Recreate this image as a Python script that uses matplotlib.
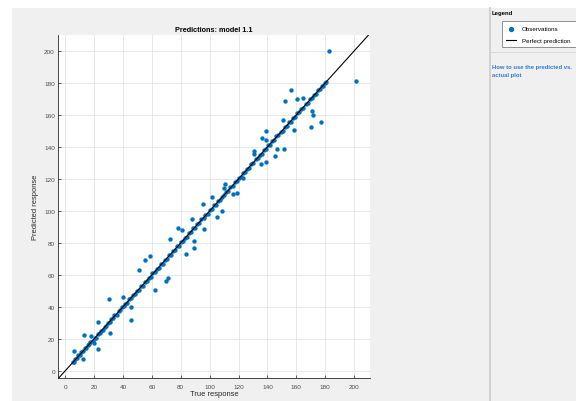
import matplotlib
matplotlib.use("Agg")
import matplotlib.pyplot as plt
from matplotlib.patches import Rectangle
from matplotlib.lines import Line2D

plt.rcParams['font.family'] = ['Liberation Sans', 'DejaVu Sans']

# observations lying on the diagonal
true_on = [5.2, 6.1, 7.0, 8.3, 9.1, 10.4, 11.2, 12.5, 13.6, 14.3, 15.5, 16.8, 17.4, 18.9,
           20.3, 21.1, 22.4, 23.8, 24.6, 25.9, 27.2, 28.1, 29.5, 30.8, 32.0, 33.3, 34.1,
           35.6, 36.9, 38.2, 39.4, 40.7, 41.5, 42.9, 44.2, 45.8, 47.1, 48.3, 49.6, 51.0,
           52.4, 53.7, 55.1, 56.5, 57.8, 59.2, 60.4, 61.9, 63.3, 64.6, 66.0, 67.5, 68.8,
           70.2, 71.7, 73.0, 74.4, 75.9, 77.3, 78.6, 80.1, 81.5, 82.8, 84.3, 85.7, 87.2,
           88.6, 90.0, 91.5, 92.9, 94.2, 95.8, 97.1, 98.6, 100.0, 101.4, 102.9, 104.3,
           105.8, 107.2, 108.5, 110.1, 111.6, 113.0, 114.4, 115.9, 117.3, 118.8, 120.2,
           121.7, 123.1, 124.5, 126.0, 127.4, 128.9, 130.3, 131.8, 133.2, 134.6, 136.1,
           137.5, 139.0, 140.4, 141.9, 143.3, 144.7, 146.2, 147.6, 149.1, 150.5, 152.0,
           153.4, 154.8, 156.3, 157.7, 159.2, 160.6, 162.1, 163.5, 164.9, 166.4, 167.8,
           169.3, 170.7, 172.1, 173.6, 175.0, 176.4, 177.5, 178.6, 179.7, 180.8]
pred_on = [5.6, 5.8, 7.5, 8.0, 9.6, 10.1, 11.7, 12.2, 14.1, 14.0, 15.9, 16.5, 17.9, 18.6,
           20.8, 20.7, 22.9, 23.5, 25.1, 25.5, 27.7, 27.8, 30.0, 30.4, 32.5, 33.0, 34.6,
           35.2, 37.4, 37.9, 39.9, 40.3, 42.0, 42.6, 44.7, 45.4, 47.6, 48.0, 50.1, 50.6,
           52.9, 53.3, 55.6, 56.1, 58.3, 58.9, 60.9, 61.5, 63.8, 64.2, 66.5, 67.1, 69.3,
           69.8, 72.2, 72.6, 74.9, 75.5, 77.8, 78.2, 80.6, 81.1, 83.3, 83.9, 86.2, 86.8,
           89.1, 89.6, 92.0, 92.5, 94.7, 95.4, 97.6, 98.2, 100.5, 101.0, 103.4, 103.9,
           106.3, 106.8, 109.0, 109.7, 112.1, 112.6, 114.9, 115.5, 117.8, 118.4, 120.7,
           121.3, 123.6, 124.1, 126.5, 127.0, 129.4, 129.9, 132.3, 132.8, 135.1, 135.7,
           138.0, 138.6, 140.9, 141.5, 143.8, 144.3, 146.7, 147.2, 149.6, 150.1, 152.5,
           153.0, 155.3, 155.9, 158.2, 158.8, 161.1, 161.7, 164.0, 164.5, 166.9, 167.4,
           169.8, 170.3, 172.6, 173.2, 175.5, 176.0, 178.0, 178.2, 180.2, 180.5]

# observations off the diagonal
true_off = [182.7, 201.2, 156.4, 152.5, 160.6, 164.7, 170.9, 171.4, 150.9, 177.4, 170.0,
            158.7, 138.9, 136.1, 139.1, 130.8, 131.0, 146.5, 151.3, 145.3, 135.6, 138.9,
            123.4, 110.7, 110.2, 116.0, 118.8, 101.3, 95.7, 108.7, 105.2, 88.1, 96.0,
            78.0, 80.7, 72.4, 89.3, 89.3, 83.5, 58.6, 55.2, 51.2, 71.1, 69.9, 62.5,
            30.4, 39.7, 45.2, 45.2, 31.1, 22.6, 12.9, 17.8, 20.0, 22.6, 6.2, 12.0]
pred_off = [200.2, 181.0, 175.8, 168.5, 169.8, 170.6, 162.7, 160.0, 157.0, 155.8, 152.3,
            150.4, 150.0, 145.4, 144.6, 137.5, 135.4, 138.7, 138.5, 134.6, 129.6, 130.8,
            120.6, 117.0, 114.6, 110.4, 111.0, 108.7, 104.2, 100.2, 96.0, 94.8, 88.5,
            89.6, 88.3, 82.5, 81.0, 77.0, 73.1, 71.5, 69.4, 63.3, 57.9, 56.0, 50.8,
            45.0, 46.3, 39.8, 31.7, 23.8, 30.8, 22.7, 21.5, 17.7, 13.7, 12.3, 7.5]

ticks = [0, 20, 40, 60, 80, 100, 120, 140, 160, 180, 200]

W, H = 576, 402
fig = plt.figure(figsize=(W / 100, H / 100), dpi=100)
fig.patch.set_facecolor('white')

# app panels (behind the axes)
fig.patches.append(Rectangle((12 / W, 0), (489 - 12) / W, (H - 9) / H, zorder=-10,
                             transform=fig.transFigure, facecolor='#f0f0f0', edgecolor='none'))
fig.patches.append(Rectangle((491 / W, 0), (W - 491) / W, (H - 9) / H, zorder=-10,
                             transform=fig.transFigure, facecolor='#f0f0f0', edgecolor='none'))
fig.add_artist(Line2D([489.5 / W, 489.5 / W], [0, (H - 9) / H], transform=fig.transFigure,
                      color='#c8c8c8', lw=1.2, zorder=-5))

ax = fig.add_axes([58 / W, (H - 379) / H, (370 - 58) / W, (379 - 36) / H])
ax.set_facecolor('white')
ax.scatter(true_on, pred_on, s=10, color='#0072BD', linewidths=0, zorder=3)
ax.scatter(true_off, pred_off, s=10, color='#0072BD', linewidths=0, zorder=3)
# perfect prediction line on top of the points
ax.plot([-10, 220], [-10, 220], color='black', lw=0.8, zorder=4)

ax.set_xlim(-5, 211)
ax.set_ylim(-4.5, 210)
ax.set_xticks(ticks)
ax.set_yticks(ticks)
ax.grid(True, color='#e3e3e3', lw=0.6)
ax.set_axisbelow(True)
for s in ['top', 'right']:
    ax.spines[s].set_visible(False)
for s in ['left', 'bottom']:
    ax.spines[s].set_color('#262626')
    ax.spines[s].set_linewidth(0.6)
ax.tick_params(direction='in', length=2, width=0.5, color='#262626',
               labelsize=4.6, labelcolor='#4d4d4d')
ax.tick_params(axis='x', pad=4.3)
ax.tick_params(axis='y', pad=2.2)
ax.set_title('Predictions: model 1.1', fontsize=5.2, fontweight='bold', pad=3)
ax.set_xlabel('True response', fontsize=5.4, color='#262626', labelpad=1)
ax.set_ylabel('Predicted response', fontsize=5.4, color='#262626', labelpad=3.5)

# side panel
fig.text(492 / W, 1 - 13 / H, 'Legend', fontsize=4.3, fontweight='bold', va='center')
fig.patches.append(Rectangle((502 / W, 1 - 48 / H), 80 / W, 26 / H, transform=fig.transFigure,
                             facecolor='white', edgecolor='#808080', lw=0.6))
fig.add_artist(Line2D([510.5 / W], [1 - 29.5 / H], marker='o', ms=2.8, color='#0072BD',
                      transform=fig.transFigure, lw=0))
fig.add_artist(Line2D([506 / W, 516 / W], [1 - 41 / H, 1 - 41 / H], color='black', lw=0.8,
                      transform=fig.transFigure))
fig.text(521.5 / W, 1 - 29.5 / H, 'Observations', fontsize=4.5, va='center')
fig.text(521.5 / W, 1 - 41 / H, 'Perfect prediction', fontsize=4.5, va='center')
fig.add_artist(Line2D([491 / W, 1], [1 - 53 / H, 1 - 53 / H], color='#d4d4d4', lw=0.6,
                      transform=fig.transFigure))
fig.text(492 / W, 1 - 67 / H, 'How to use the predicted vs.', fontsize=4.2, fontweight='bold',
         color='#2c7bd0', va='center')
fig.text(492 / W, 1 - 76 / H, 'actual plot', fontsize=4.2, fontweight='bold',
         color='#2c7bd0', va='center')

fig.savefig('out.png', dpi=100)
